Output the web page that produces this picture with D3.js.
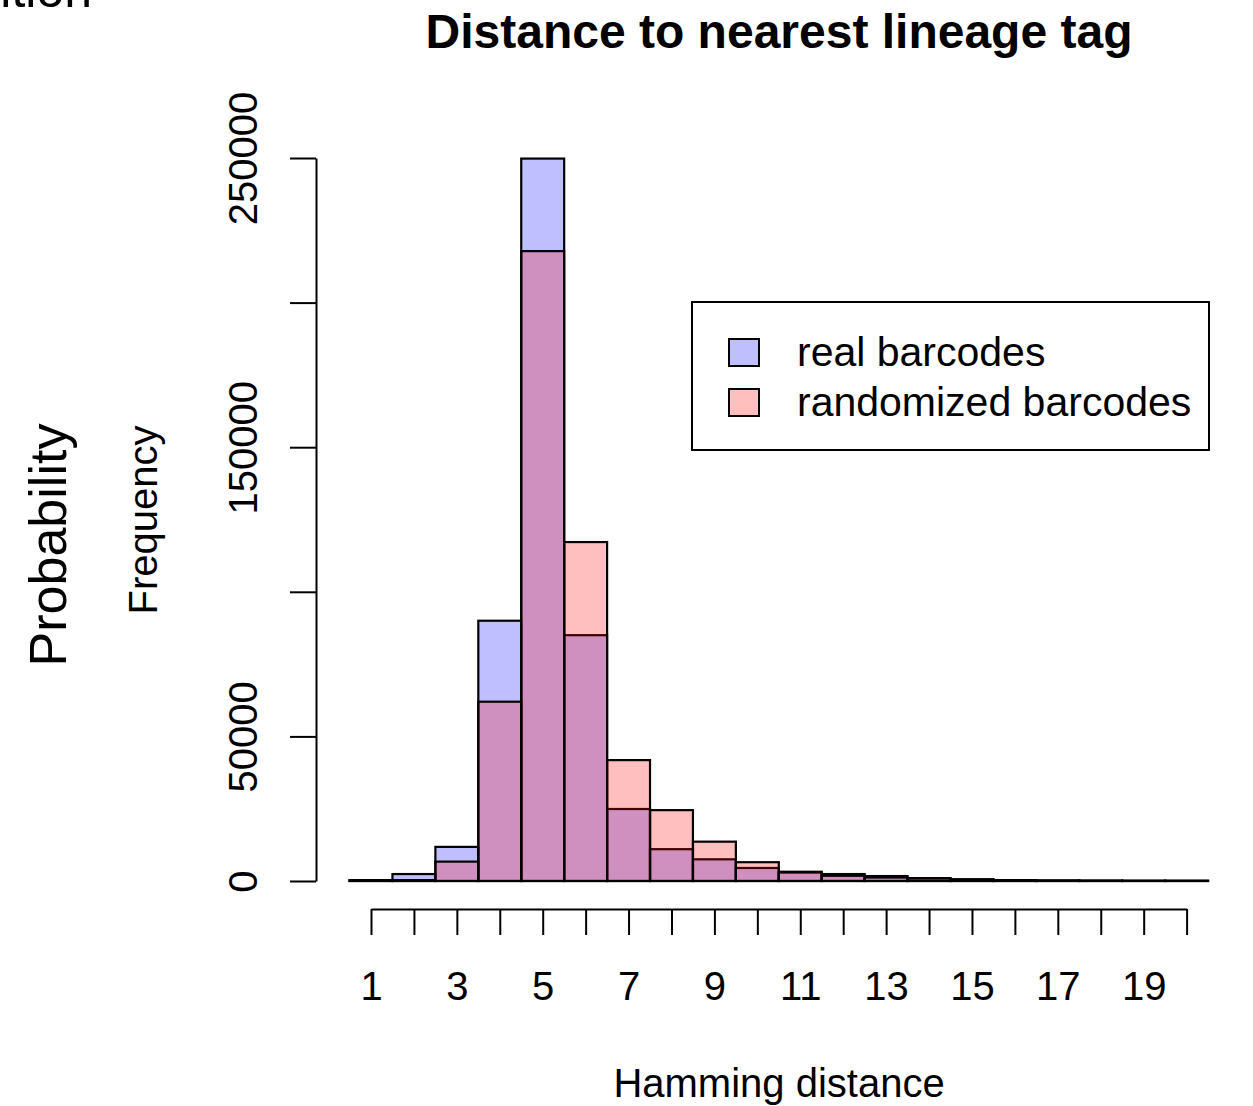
<!DOCTYPE html>
<html>
<head>
<meta charset="utf-8">
<script src="https://cdn.jsdelivr.net/npm/d3@7"></script>
<style>
  html, body { margin: 0; padding: 0; background: #fff; }
  svg { display: block; }
  text { font-family: "Liberation Sans", Arial, Helvetica, sans-serif; fill: #000; }
</style>
</head>
<body>
<svg id="chart" width="1253" height="1106"></svg>
<script>
// Hamming distance bins
const distances = [1,2,3,4,5,6,7,8,9,10,11,12,13,14,15,16,17,18,19,20,21];
// Frequencies
const realCounts   = [300, 2400, 11800, 90000, 249800, 85000, 24900, 11000, 7500, 4500, 2900, 2400, 1700, 1000, 600, 300, 200, 150, 100, 100, 0];
const randomCounts = [200, 300, 6700, 62000, 217800, 117200, 41800, 24500, 13600, 6500, 3200, 1800, 1200, 900, 500, 250, 150, 100, 80, 60, 0];
const yTicks = [0, 50000, 100000, 150000, 200000, 250000];
const yTickLabels = ["0", "50000", "", "150000", "", "250000"];
const xTicks = d3.range(1, 21);
const xTickLabels = xTicks.map(d => d % 2 === 1 ? String(d) : "");
const seriesNames = ["real barcodes", "randomized barcodes"];
const seriesColors = ["rgba(0,0,255,0.25)", "rgba(255,0,0,0.25)"];

const svg = d3.select("#chart");
const x = d3.scaleLinear().domain([1, 20]).range([371, 1186.6]);
const y = d3.scaleLinear().domain([0, 250000]).range([881, 158]);

// Bars
[realCounts, randomCounts].forEach((counts, si) => {
  svg.append("g").selectAll("rect")
    .data(distances.map((d, i) => ({d, v: counts[i]})))
    .join("rect")
    .attr("x", p => x(p.d - 0.5))
    .attr("width", p => x(p.d + 0.5) - x(p.d - 0.5))
    .attr("y", p => y(p.v))
    .attr("height", p => y(0) - y(p.v))
    .attr("fill", seriesColors[si])
    .attr("stroke", "#000")
    .attr("stroke-width", 2.2);
});

// Y axis
const yAxis = svg.append("g").attr("transform", "translate(316,0)")
  .call(d3.axisLeft(y).tickValues(yTicks).tickSize(26).tickSizeOuter(0).tickFormat((d, i) => yTickLabels[i]));
yAxis.select(".domain").attr("stroke-width", 2);
yAxis.selectAll(".tick line").attr("stroke-width", 2);
yAxis.selectAll(".tick text")
  .attr("font-size", 40)
  .attr("font-family", "Liberation Sans, Arial, sans-serif")
  .attr("text-anchor", "middle")
  .attr("transform", "rotate(-90)")
  .attr("x", 0).attr("dy", 0)
  .attr("y", -59);

// X axis
const xAxis = svg.append("g").attr("transform", "translate(0,909)")
  .call(d3.axisBottom(x).tickValues(xTicks).tickSize(26).tickSizeOuter(0).tickFormat((d, i) => xTickLabels[i]));
xAxis.select(".domain").attr("stroke-width", 2);
xAxis.selectAll(".tick line").attr("stroke-width", 2);
xAxis.selectAll(".tick text")
  .attr("font-size", 40)
  .attr("font-family", "Liberation Sans, Arial, sans-serif")
  .attr("y", 91).attr("dy", "0");

// Title
svg.append("text").attr("x", 779).attr("y", 48)
  .attr("text-anchor", "middle").attr("font-size", 48).attr("font-weight", "bold")
  .text("Distance to nearest lineage tag");

// Axis labels
svg.append("text").attr("x", 779).attr("y", 1097)
  .attr("text-anchor", "middle").attr("font-size", 40)
  .text("Hamming distance");
svg.append("text").attr("transform", "translate(157,520) rotate(-90)")
  .attr("text-anchor", "middle").attr("font-size", 40)
  .text("Frequency");
svg.append("text").attr("transform", "translate(66,545) rotate(-90)")
  .attr("text-anchor", "middle").attr("font-size", 52)
  .text("Probability");

// Partly cropped text at top-left (as in the reference)
svg.append("text").attr("x", 92).attr("y", 7)
  .attr("text-anchor", "end").attr("font-size", 50)
  .text("Position");

// Legend
const lg = svg.append("g");
lg.append("rect").attr("x", 692).attr("y", 302).attr("width", 517).attr("height", 148)
  .attr("fill", "#fff").attr("stroke", "#000").attr("stroke-width", 2);
seriesNames.forEach((name, i) => {
  lg.append("rect").attr("x", 729).attr("y", 339 + i * 50).attr("width", 30).attr("height", 27)
    .attr("fill", seriesColors[i]).attr("stroke", "#000").attr("stroke-width", 2);
  lg.append("text").attr("x", 797).attr("y", 366 + i * 50).attr("font-size", 41).text(name);
});
</script>
</body>
</html>
